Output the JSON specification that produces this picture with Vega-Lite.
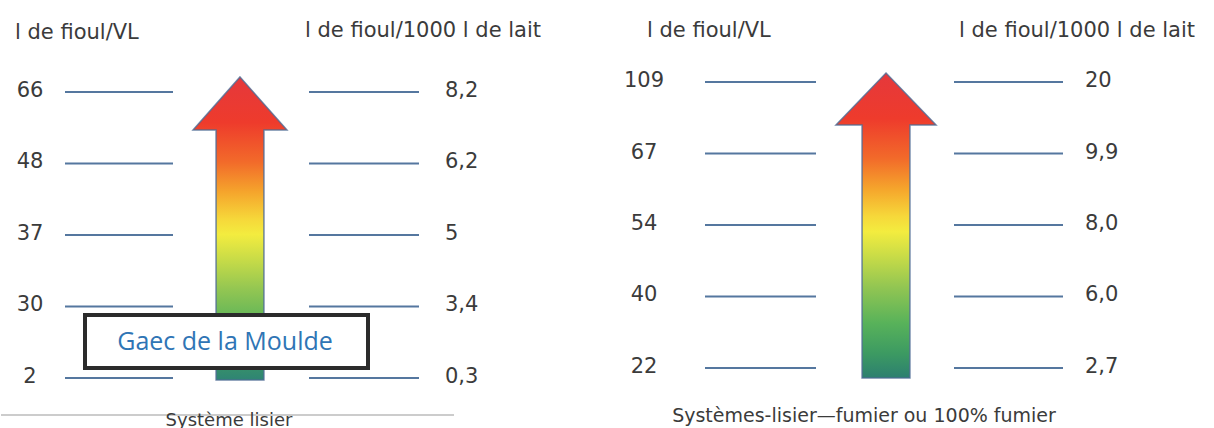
{
  "$schema": "https://vega.github.io/schema/vega-lite/v6.json",
  "padding": 0,
  "spacing": 0,
  "bounds": "flush",
  "background": "white",
  "config": {
    "view": {"stroke": null},
    "text": {"font": "DejaVu Sans", "fontSize": 21, "color": "#3b3b3b", "baseline": "middle"},
    "rule": {"color": "#55779f", "strokeWidth": 2}
  },
  "datasets": {
    "lisier": [
      {"level": 5, "vl": 66, "lait": "8,2"},
      {"level": 4, "vl": 48, "lait": "6,2"},
      {"level": 3, "vl": 37, "lait": "5"},
      {"level": 2, "vl": 30, "lait": "3,4"},
      {"level": 1, "vl": 2, "lait": "0,3"}
    ],
    "fumier": [
      {"level": 5, "vl": 109, "lait": "20"},
      {"level": 4, "vl": 67, "lait": "9,9"},
      {"level": 3, "vl": 54, "lait": "8,0"},
      {"level": 2, "vl": 40, "lait": "6,0"},
      {"level": 1, "vl": 22, "lait": "2,7"}
    ],
    "one": [{"item": "annotation"}]
  },
  "hconcat": [
    {
      "width": 600,
      "height": 428,
      "data": {"name": "lisier"},
      "layer": [
        {
          "data": {"name": "one"},
          "mark": {"type": "rule", "color": "#9a9a9a", "strokeWidth": 1.2},
          "encoding": {
            "x": {"datum": 0, "type": "quantitative", "scale": {"domain": [0, 600], "nice": false, "zero": false}, "axis": null},
            "x2": {"datum": 453},
            "y": {"datum": 0.4825, "type": "quantitative", "scale": {"domain": [0.3007, 6.2867], "nice": false, "zero": false}, "axis": null}
          }
        },
        {
          "data": {"name": "one"},
          "mark": {"type": "text", "text": "Système lisier", "fontSize": 18, "baseline": "middle", "align": "center"},
          "encoding": {
            "x": {"datum": 228, "type": "quantitative", "scale": {"domain": [0, 600], "nice": false, "zero": false}, "axis": null},
            "y": {"datum": 0.4, "type": "quantitative", "scale": {"domain": [0.3007, 6.2867], "nice": false, "zero": false}, "axis": null}
          }
        },
        {
          "mark": {"type": "rule"},
          "encoding": {
            "x": {"datum": 64, "type": "quantitative", "scale": {"domain": [0, 600], "nice": false, "zero": false}, "axis": null},
            "x2": {"datum": 172},
            "y": {"field": "level", "type": "quantitative", "scale": {"domain": [0.3007, 6.2867], "nice": false, "zero": false}, "axis": null}
          }
        },
        {
          "mark": {"type": "rule"},
          "encoding": {
            "x": {"datum": 308, "type": "quantitative", "scale": {"domain": [0, 600], "nice": false, "zero": false}, "axis": null},
            "x2": {"datum": 418},
            "y": {"field": "level", "type": "quantitative", "scale": {"domain": [0.3007, 6.2867], "nice": false, "zero": false}, "axis": null}
          }
        },
        {
          "mark": {"type": "text", "align": "center", "dy": -1},
          "encoding": {
            "x": {"datum": 29, "type": "quantitative", "scale": {"domain": [0, 600], "nice": false, "zero": false}, "axis": null},
            "y": {"field": "level", "type": "quantitative", "scale": {"domain": [0.3007, 6.2867], "nice": false, "zero": false}, "axis": null},
            "text": {"field": "vl", "type": "quantitative"}
          }
        },
        {
          "mark": {"type": "text", "align": "left", "dy": -1},
          "encoding": {
            "x": {"datum": 444, "type": "quantitative", "scale": {"domain": [0, 600], "nice": false, "zero": false}, "axis": null},
            "y": {"field": "level", "type": "quantitative", "scale": {"domain": [0.3007, 6.2867], "nice": false, "zero": false}, "axis": null},
            "text": {"field": "lait", "type": "nominal"}
          }
        },
        {
          "data": {"name": "one"},
          "mark": {"type": "text", "text": "l de fioul/VL", "align": "left"},
          "encoding": {
            "x": {"datum": 14, "type": "quantitative", "scale": {"domain": [0, 600], "nice": false, "zero": false}, "axis": null},
            "y": {"datum": 5.825, "type": "quantitative", "scale": {"domain": [0.3007, 6.2867], "nice": false, "zero": false}, "axis": null}
          }
        },
        {
          "data": {"name": "one"},
          "mark": {"type": "text", "text": "l de fioul/1000 l de lait", "align": "left"},
          "encoding": {
            "x": {"datum": 304, "type": "quantitative", "scale": {"domain": [0, 600], "nice": false, "zero": false}, "axis": null},
            "y": {"datum": 5.85, "type": "quantitative", "scale": {"domain": [0.3007, 6.2867], "nice": false, "zero": false}, "axis": null}
          }
        },
        {
          "data": {"name": "one"},
          "mark": {
            "type": "point",
            "shape": "M0,-1L0.31,-0.65L0.158,-0.65L0.158,1L-0.158,1L-0.158,-0.65L-0.31,-0.65Z",
            "size": 91809,
            "filled": true,
            "opacity": 1,
            "fill": {
              "gradient": "linear", "x1": 0, "y1": 0, "x2": 0, "y2": 1,
              "stops": [
                {"offset": 0, "color": "#e5383c"},
                {"offset": 0.15, "color": "#ee3b2c"},
                {"offset": 0.28, "color": "#f26a2a"},
                {"offset": 0.38, "color": "#f5a52c"},
                {"offset": 0.47, "color": "#f6d83a"},
                {"offset": 0.52, "color": "#f3ec3f"},
                {"offset": 0.6, "color": "#c9dc47"},
                {"offset": 0.7, "color": "#93c652"},
                {"offset": 0.82, "color": "#58b25a"},
                {"offset": 0.92, "color": "#3c9a62"},
                {"offset": 1, "color": "#2f8474"}
              ]
            },
            "stroke": "#4d6a94",
            "strokeWidth": 1.5,
            "strokeOpacity": 0.8
          },
          "encoding": {
            "x": {"datum": 239, "type": "quantitative", "scale": {"domain": [0, 600], "nice": false, "zero": false}, "axis": null},
            "y": {"datum": 3.0909, "type": "quantitative", "scale": {"domain": [0.3007, 6.2867], "nice": false, "zero": false}, "axis": null}
          }
        },
        {
          "data": {"name": "one"},
          "mark": {"type": "rect", "fill": "white", "stroke": "#2b2b2b", "strokeWidth": 4},
          "encoding": {
            "x": {"datum": 84, "type": "quantitative", "scale": {"domain": [0, 600], "nice": false, "zero": false}, "axis": null},
            "x2": {"datum": 367},
            "y": {"datum": 1.881, "type": "quantitative", "scale": {"domain": [0.3007, 6.2867], "nice": false, "zero": false}, "axis": null},
            "y2": {"datum": 1.14}
          }
        },
        {
          "data": {"name": "one"},
          "mark": {"type": "text", "text": "Gaec de la Moulde", "font": "Open Sans", "fontSize": 25, "color": "#2f75b5", "align": "center"},
          "encoding": {
            "x": {"datum": 224, "type": "quantitative", "scale": {"domain": [0, 600], "nice": false, "zero": false}, "axis": null},
            "y": {"datum": 1.503, "type": "quantitative", "scale": {"domain": [0.3007, 6.2867], "nice": false, "zero": false}, "axis": null}
          }
        }
      ]
    },
    {
      "width": 614,
      "height": 428,
      "data": {"name": "fumier"},
      "layer": [
        {
          "data": {"name": "one"},
          "mark": {"type": "text", "text": "Systèmes-lisier—fumier ou 100% fumier", "fontSize": 19, "align": "center"},
          "encoding": {
            "x": {"datum": 863, "type": "quantitative", "scale": {"domain": [600, 1214], "nice": false, "zero": false}, "axis": null},
            "y": {"datum": 0.3287, "type": "quantitative", "scale": {"domain": [0.1608, 6.1469], "nice": false, "zero": false}, "axis": null}
          }
        },
        {
          "mark": {"type": "rule"},
          "encoding": {
            "x": {"datum": 704, "type": "quantitative", "scale": {"domain": [600, 1214], "nice": false, "zero": false}, "axis": null},
            "x2": {"datum": 815},
            "y": {"field": "level", "type": "quantitative", "scale": {"domain": [0.1608, 6.1469], "nice": false, "zero": false}, "axis": null}
          }
        },
        {
          "mark": {"type": "rule"},
          "encoding": {
            "x": {"datum": 953, "type": "quantitative", "scale": {"domain": [600, 1214], "nice": false, "zero": false}, "axis": null},
            "x2": {"datum": 1062},
            "y": {"field": "level", "type": "quantitative", "scale": {"domain": [0.1608, 6.1469], "nice": false, "zero": false}, "axis": null}
          }
        },
        {
          "mark": {"type": "text", "align": "center", "dy": -1},
          "encoding": {
            "x": {"datum": 643, "type": "quantitative", "scale": {"domain": [600, 1214], "nice": false, "zero": false}, "axis": null},
            "y": {"field": "level", "type": "quantitative", "scale": {"domain": [0.1608, 6.1469], "nice": false, "zero": false}, "axis": null},
            "text": {"field": "vl", "type": "quantitative"}
          }
        },
        {
          "mark": {"type": "text", "align": "left", "dy": -1},
          "encoding": {
            "x": {"datum": 1084, "type": "quantitative", "scale": {"domain": [600, 1214], "nice": false, "zero": false}, "axis": null},
            "y": {"field": "level", "type": "quantitative", "scale": {"domain": [0.1608, 6.1469], "nice": false, "zero": false}, "axis": null},
            "text": {"field": "lait", "type": "nominal"}
          }
        },
        {
          "data": {"name": "one"},
          "mark": {"type": "text", "text": "l de fioul/VL", "align": "left"},
          "encoding": {
            "x": {"datum": 646, "type": "quantitative", "scale": {"domain": [600, 1214], "nice": false, "zero": false}, "axis": null},
            "y": {"datum": 5.713, "type": "quantitative", "scale": {"domain": [0.1608, 6.1469], "nice": false, "zero": false}, "axis": null}
          }
        },
        {
          "data": {"name": "one"},
          "mark": {"type": "text", "text": "l de fioul/1000 l de lait", "align": "left"},
          "encoding": {
            "x": {"datum": 958, "type": "quantitative", "scale": {"domain": [600, 1214], "nice": false, "zero": false}, "axis": null},
            "y": {"datum": 5.713, "type": "quantitative", "scale": {"domain": [0.1608, 6.1469], "nice": false, "zero": false}, "axis": null}
          }
        },
        {
          "data": {"name": "one"},
          "mark": {
            "type": "point",
            "shape": "M0,-1L0.328,-0.659L0.157,-0.659L0.157,1L-0.157,1L-0.157,-0.659L-0.328,-0.659Z",
            "size": 93025,
            "filled": true,
            "opacity": 1,
            "fill": {
              "gradient": "linear", "x1": 0, "y1": 0, "x2": 0, "y2": 1,
              "stops": [
                {"offset": 0, "color": "#e5383c"},
                {"offset": 0.15, "color": "#ee3b2c"},
                {"offset": 0.28, "color": "#f26a2a"},
                {"offset": 0.38, "color": "#f5a52c"},
                {"offset": 0.47, "color": "#f6d83a"},
                {"offset": 0.52, "color": "#f3ec3f"},
                {"offset": 0.6, "color": "#c9dc47"},
                {"offset": 0.7, "color": "#93c652"},
                {"offset": 0.82, "color": "#58b25a"},
                {"offset": 0.92, "color": "#3c9a62"},
                {"offset": 1, "color": "#2c7f70"}
              ]
            },
            "stroke": "#4d6a94",
            "strokeWidth": 1.5,
            "strokeOpacity": 0.8
          },
          "encoding": {
            "x": {"datum": 885, "type": "quantitative", "scale": {"domain": [600, 1214], "nice": false, "zero": false}, "axis": null},
            "y": {"datum": 2.993, "type": "quantitative", "scale": {"domain": [0.1608, 6.1469], "nice": false, "zero": false}, "axis": null}
          }
        }
      ]
    }
  ]
}
